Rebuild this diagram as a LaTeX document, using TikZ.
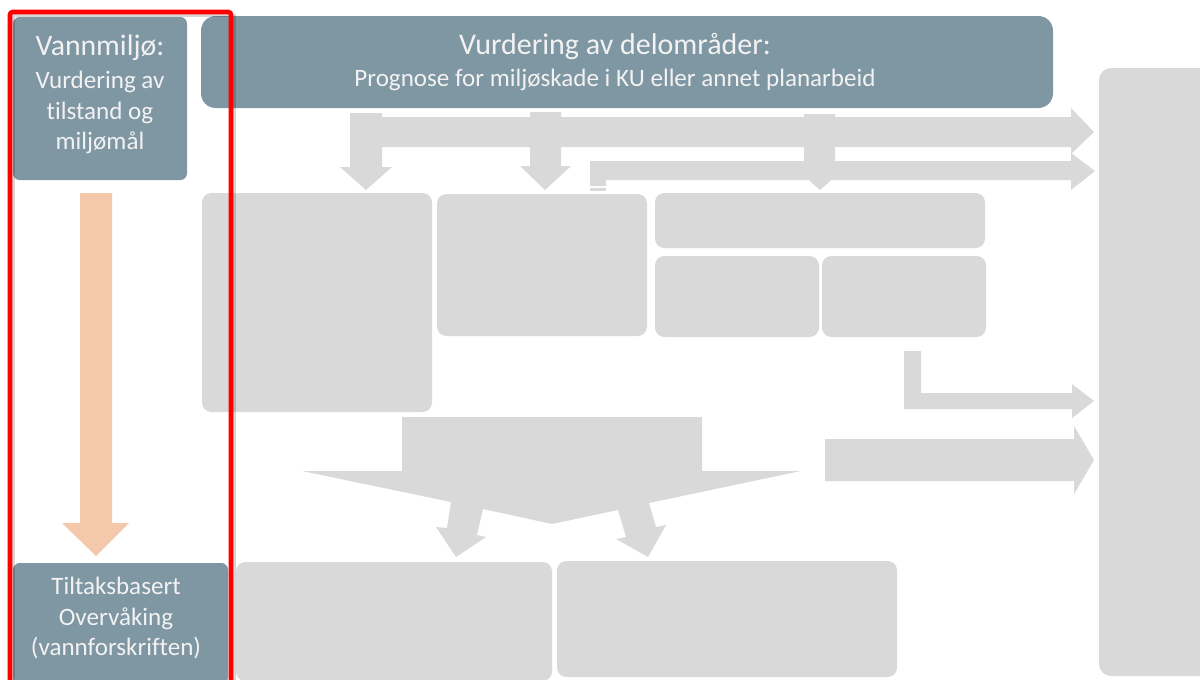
\documentclass[tikz,border=0pt]{standalone}
\usepackage{fontspec}
\setmainfont{Carlito}[Ligatures=NoCommon]
\usetikzlibrary{fit}
\definecolor{slate}{HTML}{7F96A3}
\definecolor{panelgray}{HTML}{D9D9D9}
\definecolor{peach}{HTML}{F4C9AB}
\definecolor{labeltext}{HTML}{F2F2F2}
\newcommand{\szbig}{\fontsize{22.3pt}{26pt}\selectfont}
\newcommand{\szmid}{\fontsize{18.8pt}{22pt}\selectfont}
\begin{document}
\begin{tikzpicture}[x=0.75pt,y=-0.75pt,
  panel/.style={fill=panelgray, draw=none, rounded corners=7pt, inner sep=0pt},
  header/.style={fill=slate, draw=none, rounded corners=5pt, inner sep=0pt},
  blockarrow/.style={fill=panelgray, draw=none},
  flowarrow/.style={fill=peach, draw=none},
  caption/.style={text=labeltext, inner sep=0pt, anchor=base}]
\useasboundingbox (0,0) rectangle (1200,679);
\begin{scope}
\clip (0,0) rectangle (1200,679);

% header boxes
\node[header, rounded corners=11pt, fit={(201,16) (1053,108)}] (banner) {};
\node[header, fit={(13,17) (187,180)}] (vannmiljo) {};
\node[header, fit={(13,563) (228,684)}] (tiltak) {};

% grey panels
\node[panel, rounded corners=9pt, fit={(1099,68) (1240,676)}] (rapport) {};
\node[panel, fit={(202,193) (432,412)}] (pD) {};
\node[panel, fit={(437,194) (647,336)}] (pE) {};
\node[panel, fit={(655,193) (985,248)}] (pF) {};
\node[panel, fit={(655,256) (819,337)}] (pG) {};
\node[panel, fit={(822,256) (986,337)}] (pH) {};
\node[panel, fit={(236,562) (552,681)}] (pI) {};
\node[panel, fit={(557,561) (897,677)}] (pJ) {};

% horizontal block arrows towards the right panel
\fill[blockarrow] (370,117) -- (1071,117) -- (1071,108) -- (1094,132) -- (1071,154)
  -- (1071,147) -- (370,147) -- cycle;
\fill[blockarrow] (590,161) -- (1071,161) -- (1071,153) -- (1095,171) -- (1071,190)
  -- (1071,180) -- (606,180) -- (606,186) -- (590,186) -- cycle;
\fill[blockarrow] (590,188) rectangle (606,191);

% downward block arrows from the banner
\fill[blockarrow] (350,113) -- (382,113) -- (382,167) -- (392,167) -- (366,190)
  -- (340,167) -- (350,167) -- cycle;
\fill[blockarrow] (530,112) -- (561,112) -- (561,166) -- (571,166) -- (545,190)
  -- (520,166) -- (530,166) -- cycle;
\fill[blockarrow] (804,114) -- (835,114) -- (835,167) -- (846,167) -- (820,190)
  -- (794,167) -- (804,167) -- cycle;

% bent arrow and wide arrow to the right panel
\fill[blockarrow] (904,351) -- (921,351) -- (921,393) -- (1072,393) -- (1072,384)
  -- (1094,401) -- (1072,418) -- (1072,409) -- (904,409) -- cycle;
\fill[blockarrow] (825,439) -- (1074,439) -- (1074,426) -- (1094,460) -- (1074,494)
  -- (1074,481) -- (825,481) -- cycle;

% split arrow towards the two lower panels
\fill[blockarrow] (402,417) -- (702,417) -- (702,471) -- (801,471) -- (649,503)
  -- (656,527) -- (666,525) -- (648,557) -- (616,539) -- (626,537) -- (618,510)
  -- (552,524) -- (483,509) -- (477,535) -- (486,537) -- (456,557) -- (436,527)
  -- (447,528) -- (451,502) -- (302,471) -- (402,471) -- cycle;

% monitoring flow arrow
\fill[flowarrow] (80,193) -- (112,193) -- (112,523) -- (129,523) -- (96,556)
  -- (62,523) -- (80,523) -- cycle;

% captions
\node[caption, font=\szbig] (vm1) at (100,55.5) {Vannmiljø:};
\node[caption, font=\szmid] (vm2) at (100,88) {Vurdering av};
\node[caption, font=\szmid] (vm3) at (100,119) {tilstand og};
\node[caption, font=\szmid] (vm4) at (100,149.5) {miljømål};

\node[caption, font=\fontsize{22.5pt}{26pt}\selectfont] (bn1) at (615,54) {Vurdering av delområder:};
\node[caption, font=\szmid] (bn2) at (615,86) {Prognose for miljøskade i KU eller annet planarbeid};

\node[caption, font=\szmid] (tb1) at (116,594) {Tiltaksbasert};
\node[caption, font=\szmid] (tb2) at (116,625) {Overvåking};
\node[caption, font=\szmid] (tb3) at (116,655) {(vannforskriften)};

% highlight frame
\draw[black, opacity=0.16, line width=2.2pt] (13.5,700) -- (13.5,15.5) -- (234.5,15.5) -- (234.5,700);
\draw[red, line width=3.4pt, rounded corners=2pt] (10,700) -- (10,12) -- (231,12) -- (231,700);
\end{scope}
\end{tikzpicture}
\end{document}
